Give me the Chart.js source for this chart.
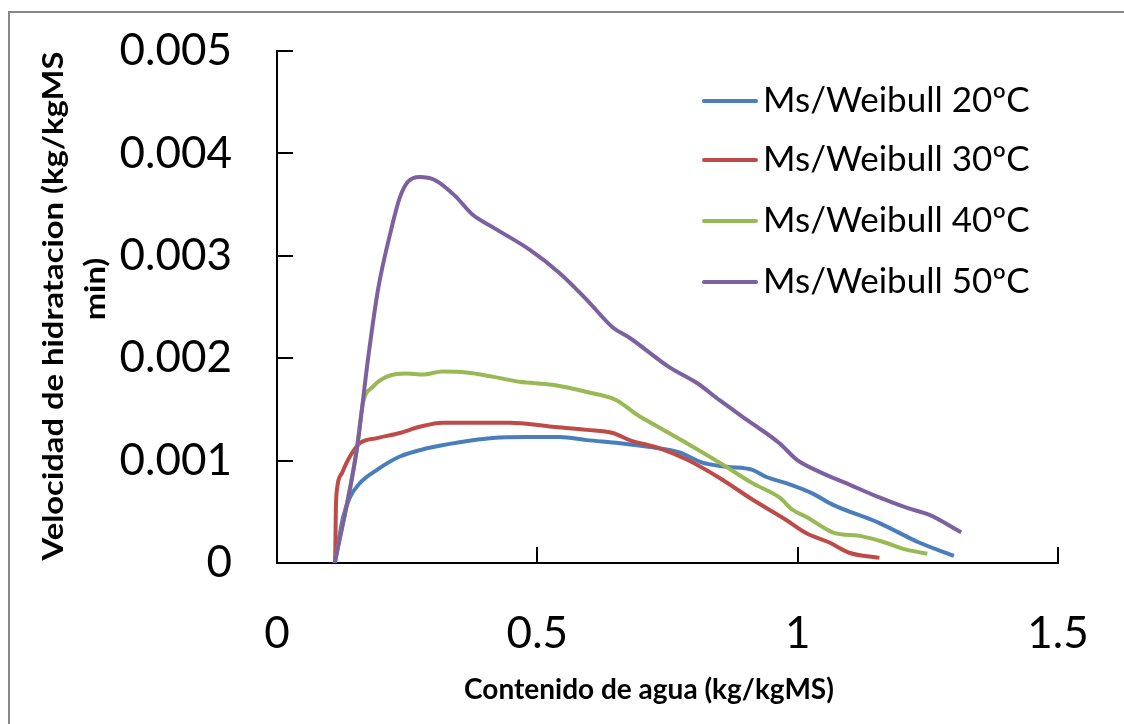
<!DOCTYPE html>
<html>
<head>
<meta charset="utf-8">
<script src="https://cdn.jsdelivr.net/npm/chart.js@4.4.0/dist/chart.umd.min.js"></script>
<style>
  html, body { margin: 0; padding: 0; background: #fff; }
  #wrap { width: 1124px; height: 724px; }
</style>
</head>
<body>
<div id="wrap"><canvas id="chart" width="1124" height="724"></canvas></div>
<script>
// Series names and colours (Excel style palette)
const seriesNames = ['Ms/Weibull 20ºC', 'Ms/Weibull 30ºC', 'Ms/Weibull 40ºC', 'Ms/Weibull 50ºC'];
const seriesColors = ['#4A7EBB', '#BE4B48', '#98B954', '#7D60A0'];

// Contenido de agua (x) and velocidad (y) for each temperature
const x20 = [0.111, 0.127, 0.14, 0.159, 0.192, 0.236, 0.288, 0.351, 0.414, 0.48, 0.543, 0.595, 0.658, 0.721, 0.773, 0.817, 0.863, 0.913, 0.94, 0.978, 1.028, 1.067, 1.157, 1.233, 1.3];
const y20 = [0, 0.00045, 0.00064, 0.00078, 0.00091, 0.00104, 0.00112, 0.00118, 0.00122, 0.00123, 0.00123, 0.0012, 0.00117, 0.00113, 0.00108, 0.00098, 0.00094, 0.00091, 0.00084, 0.00078, 0.00068, 0.00057, 0.00039, 0.0002, 0.00007];

const x30 = [0.111, 0.112, 0.113, 0.115, 0.125, 0.14, 0.159, 0.192, 0.236, 0.274, 0.318, 0.384, 0.447, 0.529, 0.595, 0.645, 0.677, 0.735, 0.787, 0.85, 0.913, 0.978, 1.017, 1.061, 1.099, 1.157];
const y30 = [0, 0.00013, 0.00052, 0.00071, 0.00088, 0.00104, 0.00117, 0.00122, 0.00127, 0.00133, 0.00137, 0.00137, 0.00137, 0.00133, 0.0013, 0.00127, 0.0012, 0.00112, 0.00101, 0.00083, 0.00062, 0.00042, 0.00029, 0.0002, 0.0001, 0.00005];

const x40 = [0.111, 0.153, 0.165, 0.184, 0.211, 0.249, 0.28, 0.318, 0.364, 0.414, 0.466, 0.529, 0.595, 0.652, 0.691, 0.735, 0.787, 0.85, 0.913, 0.965, 0.99, 1.017, 1.067, 1.124, 1.162, 1.209, 1.249];
const y40 = [0, 0.0011, 0.00156, 0.00172, 0.00182, 0.00185, 0.00184, 0.00187, 0.00186, 0.00182, 0.00177, 0.00174, 0.00167, 0.00159, 0.00145, 0.00132, 0.00117, 0.00098, 0.00078, 0.00064, 0.00052, 0.00045, 0.0003, 0.00026, 0.00021, 0.00013, 0.00009];

const x50 = [0.111, 0.153, 0.175, 0.194, 0.219, 0.236, 0.251, 0.274, 0.303, 0.341, 0.376, 0.414, 0.485, 0.543, 0.595, 0.645, 0.677, 0.754, 0.806, 0.85, 0.902, 0.965, 0.998, 1.042, 1.093, 1.157, 1.209, 1.253, 1.314];
const y50 = [0, 0.0011, 0.002, 0.00267, 0.00325, 0.00357, 0.00372, 0.00377, 0.00374, 0.00359, 0.0034, 0.00328, 0.00306, 0.00283, 0.00257, 0.0023, 0.0022, 0.00191, 0.00176, 0.00159, 0.0014, 0.00117, 0.00101, 0.00089, 0.00078, 0.00064, 0.00054, 0.00047, 0.0003];

const xTicks = [0, 0.5, 1, 1.5];
const yTicks = [0, 0.001, 0.002, 0.003, 0.004, 0.005];

const xTitle = 'Contenido de agua (kg/kgMS)';
const yTitleLines = ['Velocidad de hidratacion (kg/kgMS', 'min)'];

const FONT = 'Lato, "Open Sans", sans-serif';

function toPoints(xs, ys) {
  return xs.map((x, i) => ({ x: x, y: ys[i] }));
}

const allX = [x20, x30, x40, x50];
const allY = [y20, y30, y40, y50];

// Draws border, inward ticks, axis titles and legend
const decorations = {
  id: 'decorations',
  afterDraw(chart) {
    const ctx = chart.ctx;
    const xs = chart.scales.x;
    const ys = chart.scales.y;
    const area = chart.chartArea;
    ctx.save();

    // outer frame
    ctx.strokeStyle = '#888888';
    ctx.lineWidth = 2;
    ctx.strokeRect(9, 12, 1130, 730);

    // ticks pointing into the plot
    ctx.strokeStyle = '#000';
    ctx.lineWidth = 2;
    ctx.beginPath();
    xTicks.forEach(v => {
      const px = Math.round(xs.getPixelForValue(v));
      ctx.moveTo(px, area.bottom);
      ctx.lineTo(px, area.bottom - 16);
    });
    yTicks.forEach(v => {
      const py = Math.round(ys.getPixelForValue(v));
      ctx.moveTo(area.left, py);
      ctx.lineTo(area.left + 16, py);
    });
    ctx.stroke();

    // axis titles
    ctx.fillStyle = '#000';
    ctx.font = 'bold 28px ' + FONT;
    ctx.textAlign = 'center';
    ctx.textBaseline = 'middle';
    ctx.fillText(xTitle, 649, 690);

    // vertical title, a bit stretched along its length
    ctx.textBaseline = 'alphabetic';
    ctx.save();
    ctx.translate(63, 306);
    ctx.rotate(-Math.PI / 2);
    ctx.scale(1.17, 1);
    ctx.fillText(yTitleLines[0], 0, 0);
    ctx.restore();
    ctx.save();
    ctx.translate(105, 289);
    ctx.rotate(-Math.PI / 2);
    ctx.scale(1.17, 1);
    ctx.fillText(yTitleLines[1], 0, 0);
    ctx.restore();

    // legend
    const legendY = [101, 160, 221, 282];
    ctx.font = '35px ' + FONT;
    ctx.textAlign = 'left';
    ctx.textBaseline = 'middle';
    ctx.lineCap = 'round';
    seriesNames.forEach((name, i) => {
      ctx.strokeStyle = seriesColors[i];
      ctx.lineWidth = 4;
      ctx.beginPath();
      ctx.moveTo(704, legendY[i]);
      ctx.lineTo(756, legendY[i]);
      ctx.stroke();
      ctx.fillStyle = '#000';
      ctx.fillText(name, 763, legendY[i]);
    });

    ctx.restore();
  }
};

new Chart(document.getElementById('chart'), {
  type: 'scatter',
  data: {
    datasets: seriesNames.map((name, i) => ({
      label: name,
      data: toPoints(allX[i], allY[i]),
      showLine: true,
      borderColor: seriesColors[i],
      backgroundColor: seriesColors[i],
      borderWidth: 4,
      pointRadius: 0,
      cubicInterpolationMode: 'monotone',
      order: seriesNames.length - 1 - i
    }))
  },
  options: {
    responsive: false,
    animation: false,
    layout: { padding: { left: 0, top: 51, right: 66, bottom: 0 } },
    plugins: {
      legend: { display: false },
      tooltip: { enabled: false }
    },
    scales: {
      x: {
        type: 'linear',
        min: 0,
        max: 1.5,
        afterBuildTicks: s => { s.ticks = xTicks.map(v => ({ value: v })); },
        afterFit: s => {
          s.height = 161;
          s.paddingLeft = 0;
          s.paddingRight = 0;
        },
        ticks: {
          padding: 44,
          color: '#000',
          font: { family: FONT, size: 44 },
          callback: v => String(v)
        },
        grid: { display: true, drawOnChartArea: false, drawTicks: false },
        border: { display: true, color: '#000', width: 2 }
      },
      y: {
        type: 'linear',
        min: 0,
        max: 0.005,
        afterBuildTicks: s => { s.ticks = yTicks.map(v => ({ value: v })); },
        afterFit: s => {
          s.width = 277;
          s.paddingTop = 0;
          s.paddingBottom = 0;
        },
        ticks: {
          padding: 45,
          color: '#000',
          font: { family: FONT, size: 44 },
          callback: v => (v === 0 ? '0' : v.toFixed(3))
        },
        grid: { display: true, drawOnChartArea: false, drawTicks: false },
        border: { display: true, color: '#000', width: 2 }
      }
    }
  },
  plugins: [decorations]
});
</script>
</body>
</html>
